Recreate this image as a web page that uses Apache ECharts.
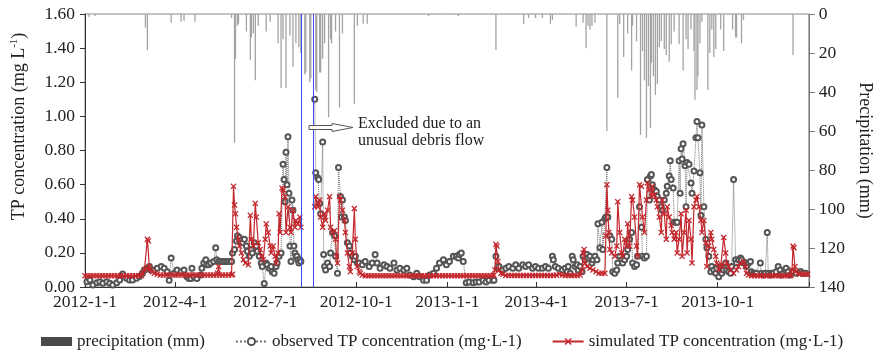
<!DOCTYPE html>
<html>
<head>
<meta charset="utf-8">
<script src="https://cdn.jsdelivr.net/npm/echarts@6/dist/echarts.min.js"></script>
<style>
html,body{margin:0;padding:0;background:#fff;}
#c{width:882px;height:352px;}
</style>
</head>
<body>
<div id="c"></div>
<script>
// x values are days counted from 2012-1-1 (day 0); 2014-1-1 is day 731
const tickDays = [0, 91, 182, 274, 366, 456, 547, 639];
const tickLabels = ['2012-1-1','2012-4-1','2012-7-1','2012-10-1','2013-1-1','2013-4-1','2013-7-1','2013-10-1'];
const tickMarks = [0, 91, 182, 274, 366, 456, 547, 639, 731];
const leftTicks = [0, 0.2, 0.4, 0.6, 0.8, 1.0, 1.2, 1.4, 1.6];
const rightTicks = [0, 20, 40, 60, 80, 100, 120, 140];
const excludedWindow = [218, 230];

// daily precipitation (mm): [day, mm]
const precipitation = [
[4,1.5],[10,1],[61,7],[63,18.5],[87,4.5],[97,4],[100,3.5],[111,4],[148,2],[151,66],[152,23],[154,6],[155,5],
[163,9],[167,23.5],[168,12],[170,10],[172,34],[175,6],[183,9],[187,4],[195,15],[198,38],[200,13],[203,38],
[207,11],[210,27],[213,15],[216,17],[218,20],[222,31],[223,30],[227,35],[228,33],[233,39],[234,40],[237,30],
[238,30],[240,23],[242,15],[246,53],[248,13],[249,15],[253,9],[257,48],[260,10],[272,46],[275,6],[281,5],
[285,5],[347,1],[377,1],[415,18.5],[443,5],[448,2],[455,2],[462,2],[470,5],[472,3],[496,6.5],[503,4.5],
[506,17.5],[508,6],[510,8],[512,6],[515,4.5],[527,60],[538,43],[540,5],[544,22],[548,10],[552,29],[553,6],
[557,14],[561,62],[563,19],[565,34],[567,63.5],[569,37],[571,58.5],[572,25],[574,32],[576,41.5],[578,36],
[580,17],[582,14],[585,18],[587,21],[590,24.5],[592,15.5],[595,9],[600,15.5],[604,29],[607,13],[609,18],
[612,8],[615,19],[616,44],[618,39],[619,32],[621,15],[623,4],[629,39],[631,20],[633,8],[635,22],[637,18],
[642,8],[645,19],[654,8],[657,12],[658,12],[663,15],[665,3],[715,21]
];

// observed TP (mg/L): [day, value]
const observedTP = [
[2,0.031],[5,0.041],[8,0.012],[12,0.025],[15,0.031],[18,0.022],[22,0.031],[25,0.022],[28,0.012],[32,0.025],
[35,0.041],[38,0.076],[42,0.051],[45,0.041],[48,0.041],[52,0.051],[55,0.061],[58,0.08],[60,0.1],[63,0.11],
[65,0.12],[67,0.1],[70,0.1],[73,0.11],[77,0.12],[80,0.11],[83,0.09],[85,0.04],[87,0.17],[90,0.08],[93,0.1],
[97,0.09],[100,0.1],[103,0.06],[105,0.05],[107,0.05],[108,0.11],[110,0.06],[113,0.05],[117,0.07],[118,0.11],
[120,0.14],[122,0.16],[123,0.13],[125,0.13],[127,0.14],[130,0.15],[132,0.23],[133,0.16],[135,0.15],[137,0.15],
[139,0.15],[141,0.15],[143,0.15],[145,0.15],[147,0.15],[148,0.15],[149,0.2],[151,0.22],[153,0.27],[154,0.3],
[156,0.29],[157,0.27],[159,0.26],[161,0.28],[163,0.24],[164,0.21],[166,0.18],[168,0.22],[169,0.2],[171,0.26],
[173,0.24],[174,0.21],[176,0.18],[178,0.14],[179,0.12],[181,0.02],[183,0.14],[184,0.13],[186,0.11],[188,0.12],
[189,0.09],[191,0.08],[193,0.12],[194,0.14],[196,0.18],[198,0.2],[200,0.72],[201,0.63],[202,0.5],[203,0.79],
[204,0.6],[205,0.88],[206,0.55],[207,0.24],[208,0.15],[209,0.51],[210,0.45],[211,0.24],[212,0.2],[213,0.18],
[214,0.18],[215,0.16],[216,0.14],[217,0.16],[218,0.15],
[225,'-'],
[232,1.10],[233,0.67],[235,0.64],[236,0.63],[237,0.49],[238,0.43],[240,0.85],[241,0.19],[242,0.12],[243,0.1],
[245,0.14],[247,0.12],[248,0.2],[250,0.32],[252,0.3],[253,0.18],[255,0.08],[256,0.7],[258,0.53],[259,0.41],
[260,0.51],[262,0.41],[263,0.39],[265,0.26],[267,0.24],[268,0.2],[270,0.18],[272,0.16],[273,0.18],[275,0.14],
[277,0.14],[280,0.13],[283,0.15],[287,0.12],[290,0.14],[293,0.19],[295,0.14],[298,0.11],[302,0.13],[305,0.12],
[308,0.11],[312,0.14],[315,0.1],[318,0.11],[322,0.1],[325,0.11],[328,0.07],[332,0.06],[335,0.08],[338,0.06],
[342,0.04],[345,0.04],[348,0.07],[352,0.08],[355,0.11],[358,0.14],[362,0.16],[365,0.13],[368,0.15],[372,0.18],
[375,0.18],[377,0.17],[378,0.19],[380,0.2],[382,0.15],[385,0.025],[388,0.03],[392,0.025],[395,0.03],[398,0.03],
[402,0.04],[405,0.03],[408,0.04],[412,0.04],[413,0.04],[415,0.18],[417,0.11],[418,0.12],[422,0.1],[425,0.11],
[428,0.12],[432,0.11],[435,0.13],[438,0.11],[442,0.13],[445,0.12],[448,0.13],[452,0.11],[455,0.12],[458,0.11],
[462,0.11],[465,0.12],[468,0.11],[472,0.18],[473,0.16],[475,0.12],[478,0.11],[482,0.1],[485,0.11],[487,0.09],
[488,0.12],[490,0.08],[492,0.18],[493,0.16],[495,0.12],[497,0.13],[498,0.1],[500,0.12],[502,0.09],[503,0.18],
[505,0.16],[507,0.19],[508,0.17],[510,0.18],[512,0.14],[513,0.16],[515,0.18],[517,0.16],[518,0.37],[520,0.23],
[522,0.38],[523,0.22],[525,0.4],[526,0.41],[527,0.7],[528,0.41],[530,0.3],[532,0.28],[533,0.09],[535,0.08],
[537,0.1],[538,0.14],[540,0.18],[542,0.16],[543,0.14],[545,0.16],[547,0.18],[548,0.22],[550,0.28],[552,0.32],
[553,0.14],[555,0.12],[557,0.13],[558,0.18],[560,0.47],[562,0.35],[563,0.18],[565,0.17],[567,0.18],[568,0.63],
[570,0.51],[571,0.65],[572,0.66],[573,0.6],[575,0.57],[577,0.56],[578,0.53],[580,0.51],[582,0.47],[583,0.45],
[585,0.51],[587,0.55],[588,0.59],[590,0.65],[591,0.74],[592,0.63],[594,0.58],[595,0.38],[597,0.38],[598,0.38],
[600,0.74],[601,0.55],[602,0.81],[603,0.75],[604,0.84],[606,0.71],[607,0.47],[608,0.73],[610,0.72],[612,0.61],
[613,0.55],[615,0.68],[617,0.875],[618,0.97],[619,0.875],[621,0.67],[622,0.42],[623,0.95],[625,0.47],[627,0.28],
[628,0.23],[630,0.18],[632,0.09],[633,0.12],[635,0.1],[637,0.08],[638,0.11],[640,0.06],[642,0.12],[643,0.08],
[645,0.1],[647,0.14],[648,0.1],[650,0.09],[652,0.08],[653,0.12],[655,0.63],[657,0.16],[658,0.14],[660,0.16],
[662,0.17],[663,0.16],[665,0.14],[667,0.14],[668,0.12],[670,0.14],[672,0.15],[673,0.09],[675,0.08],[677,0.08],
[678,0.08],[682,0.14],[683,0.08],[685,0.07],[687,0.08],[689,0.32],[690,0.08],[692,0.07],[693,0.08],[695,0.08],
[698,0.09],[700,0.12],[702,0.1],[703,0.07],[705,0.08],[707,0.1],[708,0.11],[710,0.09],[712,0.07],[715,0.09],
[718,0.08],[722,0.09],[723,0.09],[725,0.08],[728,0.08]
];

// simulated TP (mg/L): [day, value]
const simulatedTP = [
[0,0.066],[3,0.066],[6,0.066],[9,0.066],[12,0.066],[15,0.066],[18,0.066],[21,0.066],[24,0.066],[27,0.066],
[30,0.066],[33,0.066],[36,0.066],[39,0.066],[42,0.066],[45,0.066],[48,0.066],[51,0.066],[54,0.066],[57,0.068],
[58,0.08],[60,0.1],[62,0.11],[63,0.28],[64,0.27],[65,0.12],[66,0.1],[68,0.09],[70,0.08],[73,0.075],
[76,0.07],[79,0.07],[82,0.07],[85,0.07],[88,0.07],[91,0.07],[94,0.07],[97,0.07],[100,0.07],[103,0.07],
[106,0.07],[109,0.07],[112,0.07],[115,0.07],[118,0.07],[121,0.07],[124,0.07],[127,0.07],[130,0.07],[133,0.07],
[134,0.08],[135,0.12],[136,0.07],[139,0.07],[142,0.07],[145,0.07],[148,0.07],[149,0.075],
[150,0.59],[151,0.48],[152,0.43],[153,0.35],[155,0.28],[156,0.24],[158,0.2],[160,0.16],[162,0.14],[165,0.13],
[167,0.42],[168,0.28],[170,0.24],[172,0.49],[173,0.41],[175,0.26],[177,0.22],[178,0.18],[180,0.16],[182,0.28],
[183,0.37],[185,0.32],[187,0.24],[188,0.2],[190,0.24],[192,0.18],[193,0.14],[195,0.2],[196,0.43],[197,0.32],
[199,0.58],[200,0.57],[202,0.53],[203,0.32],[205,0.47],[207,0.35],[208,0.32],[210,0.45],[212,0.35],[213,0.39],
[215,0.37],[217,0.41],[218,0.35],
[225,'-'],
[232,0.47],[233,0.53],[235,0.47],[237,0.51],[238,0.41],[240,0.35],[242,0.43],[243,0.39],[245,0.45],[247,0.53],
[248,0.35],[250,0.32],[252,0.33],[253,0.28],[254,0.18],[255,0.14],[257,0.53],[258,0.51],[260,0.45],[262,0.39],
[263,0.32],[265,0.2],[267,0.12],[268,0.09],[270,0.2],[272,0.46],[273,0.28],[275,0.12],[277,0.09],[278,0.08],
[280,0.07],[283,0.066],[286,0.066],[289,0.066],[292,0.066],[295,0.066],[298,0.066],[301,0.066],[304,0.066],
[307,0.066],[310,0.066],[313,0.066],[316,0.066],[319,0.066],[322,0.066],[325,0.066],[328,0.066],[331,0.066],
[334,0.066],[337,0.066],[340,0.066],[343,0.066],[346,0.066],[349,0.066],[352,0.066],[355,0.066],[358,0.066],
[361,0.066],[364,0.066],[367,0.066],[370,0.066],[373,0.066],[376,0.066],[379,0.066],[382,0.066],[385,0.066],
[388,0.066],[391,0.066],[394,0.066],[397,0.066],[400,0.066],[403,0.066],[406,0.066],[409,0.066],[412,0.066],
[413,0.07],[414,0.1],[415,0.25],[416,0.24],[417,0.15],[418,0.1],[420,0.08],[422,0.075],
[425,0.068],[428,0.068],[431,0.068],[434,0.068],[437,0.068],[440,0.068],[443,0.068],[446,0.068],[449,0.068],
[452,0.068],[455,0.068],[458,0.068],[461,0.068],[464,0.068],[467,0.068],[470,0.068],[473,0.068],[476,0.07],
[479,0.075],[482,0.07],[485,0.068],[488,0.068],[491,0.068],[494,0.068],[497,0.068],[500,0.07],
[502,0.1],[503,0.2],[504,0.22],[505,0.14],[507,0.12],[510,0.11],[513,0.1],[516,0.09],[519,0.08],[522,0.08],
[525,0.08],[526,0.3],[527,0.6],[528,0.45],[529,0.32],[530,0.22],[532,0.2],[535,0.18],[537,0.24],[538,0.5],
[540,0.32],[542,0.2],[543,0.18],[545,0.28],[547,0.24],[548,0.37],[550,0.24],[552,0.53],[553,0.51],[555,0.41],
[557,0.24],[558,0.18],[560,0.6],[562,0.59],[563,0.41],[565,0.32],[567,0.51],[568,0.61],[570,0.57],[572,0.53],
[573,0.59],[575,0.54],[577,0.51],[578,0.47],[580,0.41],[582,0.32],[583,0.51],[585,0.43],[587,0.28],[588,0.47],
[590,0.41],[592,0.36],[593,0.32],[595,0.28],[597,0.32],[598,0.2],[600,0.28],[602,0.43],[603,0.18],[605,0.32],
[607,0.45],[608,0.2],[610,0.39],[612,0.28],[613,0.14],[615,0.47],[617,0.51],[618,0.53],[620,0.47],[622,0.39],
[623,0.32],[625,0.39],[627,0.26],[628,0.12],[630,0.24],[632,0.32],[633,0.28],[635,0.22],[637,0.18],[638,0.14],
[640,0.1],[642,0.12],[643,0.13],[645,0.29],[647,0.2],[648,0.14],[650,0.12],[652,0.1],[655,0.08],[658,0.1],
[660,0.12],[662,0.14],[665,0.15],[667,0.12],[668,0.08],[670,0.07],[673,0.066],[676,0.066],[679,0.066],
[682,0.066],[685,0.066],[688,0.066],[691,0.066],[694,0.066],[697,0.066],[700,0.066],[703,0.066],[706,0.066],
[709,0.066],[712,0.066],[713,0.07],[714,0.1],[715,0.24],[716,0.23],[717,0.12],[718,0.09],[720,0.08],
[722,0.075],[725,0.075],[728,0.075],[730,0.075]
];

const FONT = '"Liberation Serif", "Times New Roman", serif';
const TXT = '#222';
const RED = '#c3262c';
const xMark = 'path://M0,1.5L1.5,0L5,3.5L8.5,0L10,1.5L6.5,5L10,8.5L8.5,10L5,6.5L1.5,10L0,8.5L3.5,5Z';

const chart = echarts.init(document.getElementById('c'), null, {renderer: 'canvas'});
chart.setOption({
  animation: false,
  backgroundColor: '#fff',
  textStyle: {fontFamily: FONT, color: TXT},
  grid: {left: 85, right: 65, top: 14, bottom: 65, show: true, borderColor: '#8a8a8a', borderWidth: 1, backgroundColor: 'transparent'},
  legend: {
    left: 36, top: 328, itemGap: 30, itemWidth: 31, itemHeight: 9,
    textStyle: {fontFamily: FONT, fontSize: 17, color: TXT},
    data: [
      {name: 'precipitation (mm)', icon: 'rect', itemStyle: {color: '#4a4a4a'}},
      {name: 'observed TP concentration (mg·L-1)'},
      {name: 'simulated TP concentration (mg·L-1)'}
    ]
  },
  xAxis: {
    type: 'value', min: 0, max: 731,
    axisLine: {lineStyle: {color: '#333', width: 1}},
    axisTick: {inside: true, length: 5, customValues: tickMarks, lineStyle: {color: '#333'}},
    axisLabel: {customValues: tickDays, formatter: v => tickLabels[tickDays.indexOf(v)], fontFamily: FONT, fontSize: 17.5, color: TXT, margin: 6},
    splitLine: {show: false}
  },
  yAxis: [
    {
      type: 'value', min: 0, max: 1.6, interval: 0.2, position: 'left',
      name: 'TP concentration (mg L{sup|-1})', nameLocation: 'middle', nameGap: 56, nameRotate: 90,
      nameTextStyle: {fontFamily: FONT, fontSize: 18, color: TXT, padding: [0, 0, 0, 48],
        rich: {sup: {fontFamily: FONT, fontSize: 11, color: TXT, verticalAlign: 'top', lineHeight: 20}}},
      axisLine: {show: true, lineStyle: {color: '#333'}},
      axisTick: {show: true, inside: false, length: 5, lineStyle: {color: '#333'}},
      axisLabel: {customValues: leftTicks, formatter: v => v.toFixed(2), fontFamily: FONT, fontSize: 17.5, color: TXT, margin: 10},
      splitLine: {show: false}
    },
    {
      type: 'value', min: 0, max: 140, interval: 20, position: 'right', inverse: true,
      name: 'Precipitation (mm)', nameLocation: 'middle', nameGap: 44, nameRotate: -90,
      nameTextStyle: {fontFamily: FONT, fontSize: 18, color: TXT},
      axisLine: {show: true, lineStyle: {color: '#777'}},
      axisTick: {show: true, inside: false, length: 6, lineStyle: {color: '#777'}},
      axisLabel: {customValues: rightTicks, fontFamily: FONT, fontSize: 17.5, color: TXT, margin: 10},
      splitLine: {show: false}
    }
  ],
  series: [
    {
      name: 'precipitation (mm)', type: 'bar', xAxisIndex: 0, yAxisIndex: 1,
      barWidth: 1.3, itemStyle: {color: '#a3a3a3'}, data: precipitation, z: 1
    },
    {
      name: 'observed TP concentration (mg·L-1)', type: 'line', yAxisIndex: 0,
      data: observedTP, symbol: 'emptyCircle', symbolSize: 5, showAllSymbol: true,
      itemStyle: {color: '#555', borderWidth: 0.9},
      lineStyle: {color: '#707070', width: 1, type: 'dotted'},
      z: 3,
      markLine: {
        silent: true, symbol: 'none', label: {show: false},
        emphasis: {disabled: true},
        lineStyle: {color: '#3b4cf0', type: 'solid', width: 1, opacity: 1},
        data: excludedWindow.map(d => ({xAxis: d, lineStyle: {color: '#3b4cf0'}}))
      }
    },
    {
      name: 'simulated TP concentration (mg·L-1)', type: 'line', yAxisIndex: 0,
      data: simulatedTP, symbol: xMark, symbolSize: 6, showAllSymbol: true,
      itemStyle: {color: RED},
      lineStyle: {color: RED, width: 1.2},
      z: 4
    }
  ],
  graphic: [
    {type: 'polygon', z: 100, shape: {points: [[309,125.5],[332,125.5],[332,123.5],[353,127.5],[332,131.5],[332,129.5],[309,129.5]]},
     style: {fill: '#fff', stroke: '#555', lineWidth: 1}},
    {type: 'text', z: 100, x: 358, y: 115, style: {text: 'Excluded due to an\nunusual debris flow', font: '16px "Liberation Serif"', lineHeight: 17, fill: TXT}}
  ]
});
</script>
</body>
</html>
